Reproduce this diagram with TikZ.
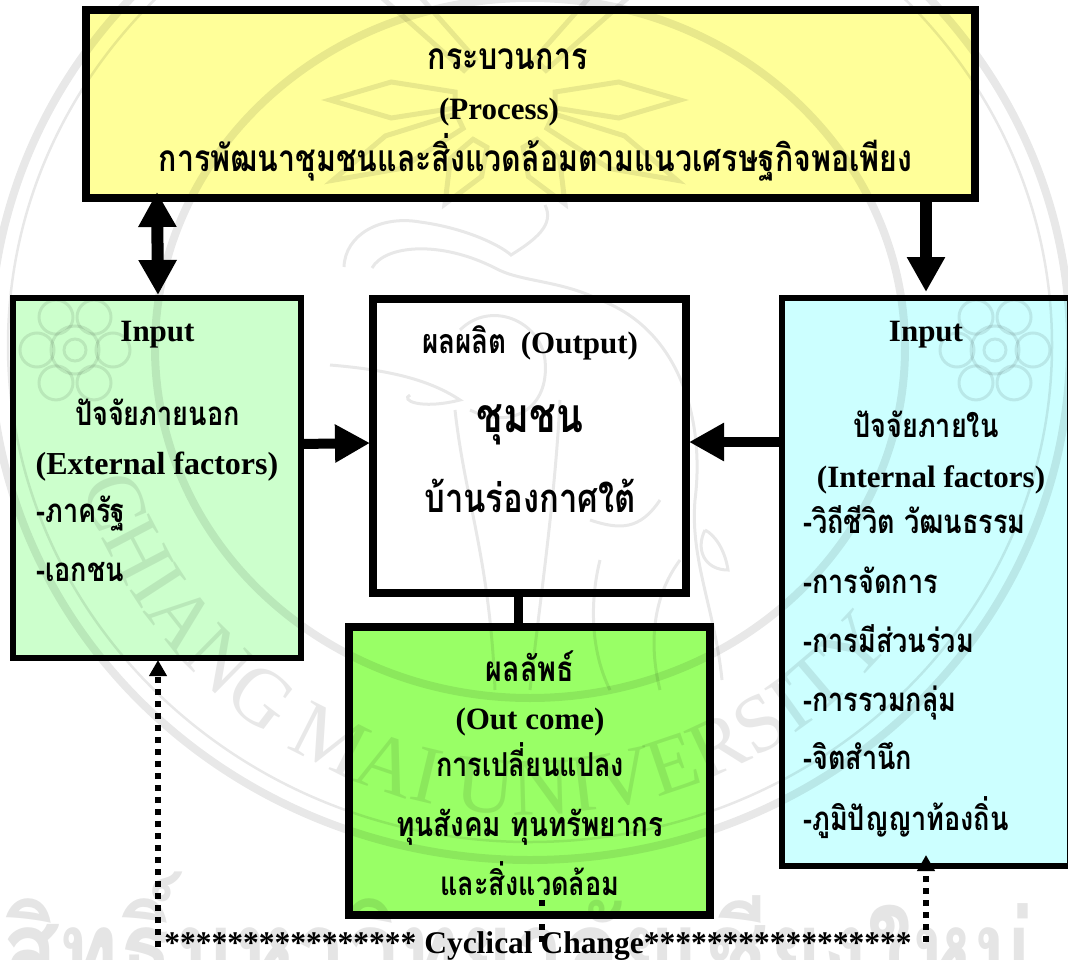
\documentclass[tikz,border=0pt]{standalone}
\usepackage{fontspec}
\setmainfont{Liberation Serif}[BoldFont=Liberation Serif Bold]
\newfontfamily\thaifont{Loma}[Script=Thai,BoldFont=Loma Bold,FakeStretch=0.82]
\usetikzlibrary{arrows.meta,decorations.text}
\definecolor{cyellow}{HTML}{FFFF99}
\definecolor{clgreen}{HTML}{CCFFCC}
\definecolor{ccyan}{HTML}{CCFFFF}
\definecolor{cgreen}{HTML}{99FF66}
\newcommand{\fs}[1]{\fontsize{#1}{#1}\selectfont}
\tikzset{
 x=1pt,y=-1pt,
 boxnode/.style={draw=black,line width=#1,inner sep=0pt,outer sep=0pt,anchor=north west},
 lat/.style={anchor=base,inner sep=0pt,font=\bfseries\fs{31}},
 tha/.style={anchor=base,inner sep=0pt,font=\bfseries\thaifont\fs{33}},
 thl/.style={anchor=base west,inner sep=0pt,font=\bfseries\thaifont\fs{33}},
 heavy/.style={line width=#1,draw=black},
 dotline/.style={line width=6pt,draw=black,dash pattern=on 6pt off 6pt},
 seal/.style={draw=black,opacity=0.09,line width=#1},
 seal/.default=4pt,
 bighead/.tip={Triangle[width=36pt,length=35pt]},
 smallhead/.tip={Triangle[width=17pt,length=16pt]},
}
\begin{document}
\begin{tikzpicture}
\useasboundingbox (0,0) rectangle (1068,960);
\fill[white] (0,0) rectangle (1068,960);
% boxes
\node[boxnode=8pt,fill=cyellow,minimum width=888.5pt,minimum height=188.5pt] (topbox) at (86,10) {};
\node[boxnode=6pt,fill=clgreen,minimum width=288pt,minimum height=360pt] (leftbox) at (13,298) {};
\node[boxnode=8pt,fill=white,minimum width=313pt,minimum height=294pt] (midbox) at (373,298.5) {};
\node[boxnode=6pt,fill=ccyan,minimum width=288pt,minimum height=568pt] (rightbox) at (782,298) {};
\node[boxnode=8pt,fill=cgreen,minimum width=361pt,minimum height=287.5pt] (outbox) at (349,627) {};
% watermark
\begin{scope}
\clip (0,0) rectangle (1068,960);
\draw[seal=8pt] (530,345) ellipse[x radius=540,y radius=515];
\draw[seal=2.5pt] (530,345) ellipse[x radius=522,y radius=497];
\draw[seal=8pt] (530,348) ellipse[x radius=375,y radius=350];
\foreach \a/\r in {0/175,180/175,-60/120,-120/120,45/330,135/330,-25/190,-155/190}{
 \begin{scope}[shift={(505,100)},rotate=\a]
 \draw[seal=5pt] (\r,0) -- ({0.65*\r},18) -- (50,8) -- (50,-8) -- ({0.65*\r},-18) -- cycle;
 \end{scope}}
% elephant, roughly
\draw[seal=3pt] (344,267) .. controls (345,235) and (380,215) .. (420,222) .. controls (465,228) and (500,245) .. (511,255) .. controls (535,240) and (555,225) .. (545,205);
\draw[seal=3pt] (372,268) .. controls (385,245) and (440,240) .. (495,268) .. controls (520,282) and (560,280) .. (600,300);
\draw[seal=3pt] (600,300) .. controls (680,330) and (705,420) .. (695,500) .. controls (690,560) and (715,610) .. (722,680);
\draw[seal=3pt] (330,365) .. controls (390,370) and (430,380) .. (460,400) .. controls (420,410) and (400,400) .. (410,395);
\draw[seal=3pt] (460,330) .. controls (490,300) and (540,320) .. (545,360) .. controls (550,410) and (510,430) .. (470,410);
\draw[seal=3pt] (455,410) .. controls (465,500) and (490,560) .. (495,690);
\draw[seal=3pt] (560,400) .. controls (555,500) and (540,600) .. (530,690);
\draw[seal=3pt] (590,520) .. controls (620,530) and (640,530) .. (660,500);
\draw[seal=3pt] (600,560) .. controls (590,600) and (590,650) .. (610,690);
\draw[seal=3pt] (680,560) .. controls (650,600) and (650,650) .. (660,690);
\draw[seal=3pt] (705,530) .. controls (695,550) and (705,570) .. (728,570) .. controls (725,550) and (715,535) .. (705,530);
% flowers
\foreach \cx/\cy in {75/350,995/350}{
 \draw[seal=3pt] (\cx,\cy) circle[radius=11];
 \draw[seal=3pt] (\cx,\cy) circle[radius=24];
 \foreach \a in {0,60,...,300}{\draw[seal=3pt] ({\cx+38*cos(\a)},{\cy+38*sin(\a)}) circle[radius=17];}
}
\node[font=\bfseries\thaifont\fs{112},text=black,opacity=0.10,anchor=base west,inner sep=0pt] (sealtext) at (2,990) {สิทธิ์มหาวิทยาลัยเชียงใหม่};
\begin{scope}[opacity=0.09,text opacity=0.09]
\path[decorate,decoration={text along path,text align=center,text={|\fs{82}|CHIANG MAI UNIVERSITY}}]
 (66,418) arc[start angle=189,end angle=329,radius=470,x radius=470,y radius=-470];
\end{scope}
\end{scope}
% connectors
\draw[heavy=12pt,{bighead}-{bighead}] ([yshift=6.5pt]topbox.south -| leftbox.north) -- ([xshift=1pt,yshift=3pt]leftbox.north);
\draw[heavy=12pt,-{bighead}] ([yshift=-4pt]topbox.south -| rightbox.north) -- ([yshift=6pt]rightbox.north);
\draw[heavy=10pt,-{bighead}] (leftbox.east |- 0,444) -- ([xshift=-3pt]midbox.west |- 0,443);
\draw[heavy=10pt,-{bighead}] (rightbox.west |- 0,442) -- ([xshift=3pt]midbox.east |- 0,442);
\draw[heavy=8.5pt] (midbox.south -| 518.5,0) -- (outbox.north -| 518.5,0);
\coordinate (cyl) at (542,947);
\coordinate (cyl2) at (542,900);
\coordinate (cl) at (158,947);
\coordinate (cr) at (926,942);
\draw[dotline] (cyl2) -- (cyl);
\draw[dotline,-{smallhead}] (cl) -- ([yshift=-2pt]leftbox.south -| cl);
\draw[dotline,-{smallhead}] (cr) -- ([yshift=11pt]rightbox.south -| cr);
% texts
\node[tha,font=\bfseries\thaifont\fs{37}] (t1) at (507.5,70) {กระบวนการ};
\node[lat] (t2) at (499,120) {(Process)};
\node[tha,font=\bfseries\thaifont\fs{37}] (t3) at (535.5,172) {การพัฒนาชุมชนและสิ่งแวดล้อมตามแนวเศรษฐกิจพอเพียง};
\node[lat] (l1) at (157.5,341) {Input};
\node[tha] (l2) at (157.5,425) {ปัจจัยภายนอก};
\node[lat,font=\bfseries\fs{32}] (l3) at (157,474) {(External factors)};
\node[thl] (l4) at (36,522) {-ภาครัฐ};
\node[thl] (l5) at (36,581) {-เอกชน};
\node[anchor=base,inner sep=0pt,font=\bfseries\fs{31}] (m1) at (530,353) {{\thaifont\fs{34}ผลผลิต}\hspace{14pt}(Output)};
\node[tha,font=\bfseries\thaifont\fs{48}] (m2) at (530,432) {ชุมชน};
\node[tha,font=\bfseries\thaifont\fs{40}] (m3) at (530,512) {บ้านร่องกาศใต้};
\node[lat] (r1) at (926,341) {Input};
\node[tha] (r2) at (926,437) {ปัจจัยภายใน};
\node[lat] (r3) at (931,487) {(Internal factors)};
\node[thl] (r4) at (803,533) {-วิถีชีวิต วัฒนธรรม};
\node[thl] (r5) at (803,593) {-การจัดการ};
\node[thl] (r6) at (803,652) {-การมีส่วนร่วม};
\node[thl] (r7) at (803,711) {-การรวมกลุ่ม};
\node[thl] (r8) at (803,769) {-จิตสำนึก};
\node[thl] (r9) at (803,830) {-ภูมิปัญญาท้องถิ่น};
\node[tha,font=\bfseries\thaifont\fs{35}] (o1) at (530,681) {ผลลัพธ์};
\node[lat] (o2) at (530,729) {(Out come)};
\node[tha] (o3) at (530,776) {การเปลี่ยนแปลง};
\node[tha,font=\bfseries\thaifont\fs{34}] (o4) at (530,836) {ทุนสังคม ทุนทรัพยากร};
\node[tha] (o5) at (530,895) {และสิ่งแวดล้อม};
\node[lat,font=\bfseries\fs{31.5}] (cy) at (538,953) {**************** Cyclical Change*****************};
\end{tikzpicture}
\end{document}
